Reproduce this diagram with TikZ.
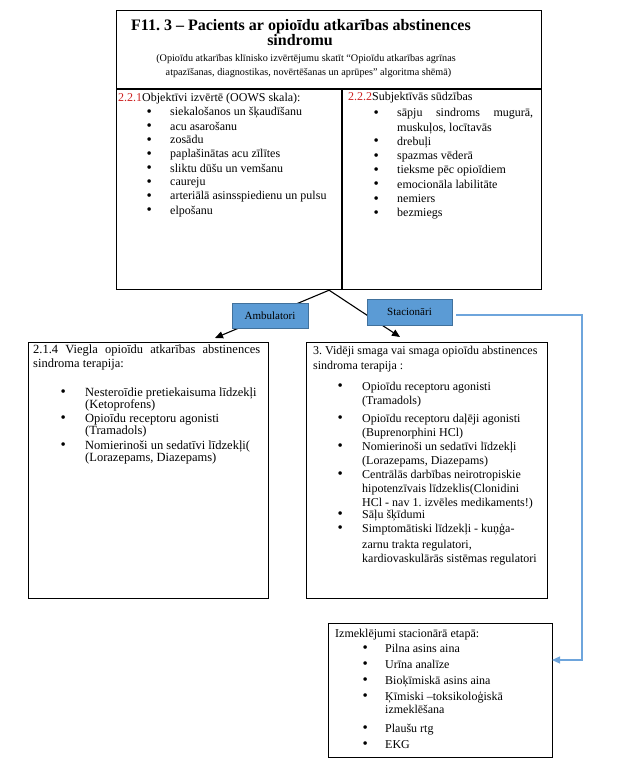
\documentclass[tikz,border=0pt]{standalone}
\usepackage{fontspec}
\setmainfont{Liberation Serif}
\usetikzlibrary{arrows.meta,calc}
\frenchspacing
\definecolor{numred}{RGB}{204,32,32}
\definecolor{bfill}{RGB}{91,155,213}
\definecolor{bdraw}{RGB}{65,113,156}
\definecolor{bline}{RGB}{110,165,220}
\newcommand{\fs}[2]{\fontsize{#1pt}{#2pt}\selectfont}
\newlength{\bpos}\newlength{\tpos}
\newcommand{\bul}{\raisebox{-0.6pt}{\fontsize{15pt}{0pt}\selectfont\textbullet}}
\newcommand{\itm}[2][0pt]{\par\vspace{#1}\hangindent=\tpos\hangafter=1\noindent\hbox to\tpos{\hskip\bpos\makebox[0pt]{\bul}\hfill}#2}
\tikzset{
  frame/.style={draw, line width=1.2pt, inner sep=0pt, anchor=north west},
  lst/.style={inner sep=0pt, anchor=base west, align=justify},
  ttl/.style={inner sep=0pt, anchor=base, font=\bfseries\fs{16}{15}},
  subt/.style={inner sep=0pt, anchor=base, font=\fs{10.2}{13}},
  bluebox/.style={draw=bdraw, fill=bfill, line width=1pt, inner sep=0pt, font=\fs{11}{13}},
  arr/.style={-{Triangle[length=8pt,width=7pt]}, line width=1.1pt},
  bluearr/.style={-{Triangle[length=8pt,width=7pt]}, draw=bline, line width=1.2pt}
}
\begin{document}
\begin{tikzpicture}[x=1pt,y=-1pt]
\useasboundingbox (0,0) rectangle (636,773);
% frames
\node[frame, minimum width=425pt, minimum height=279pt] (top) at (116,10) {};
\node[frame, minimum width=240pt, minimum height=256pt] (lbox) at (28,342) {};
\node[frame, minimum width=241pt, minimum height=256pt] (rbox) at (306,342) {};
\node[frame, minimum width=224pt, minimum height=134pt] (bbox) at (328,623) {};
\draw[line width=1.2pt] ([yshift=-79pt]top.north west) -- ([yshift=-79pt]top.north east);
\draw[line width=1.2pt] ([xshift=226pt,yshift=-79pt]top.north west) -- ([xshift=226pt]top.south west);
% title
\node[ttl] (t1) at (301,30.5) {F11. 3 – Pacients ar opioīdu atkarības abstinences};
\node[ttl] (t2) at (300,46) {sindromu};
\node[subt] (s1) at (306,62) {(Opioīdu atkarības klīnisko izvērtējumu skatīt “Opioīdu atkarības agrīnas};
\node[subt] (s2) at (308.5,75.5) {atpazīšanas, diagnostikas, novērtēšanas un aprūpes” algoritma shēmā)};
% top left list
\node[lst, text width=220pt, font=\fs{12}{14}] (tl) at (118,101.5) {\setlength{\bpos}{31pt}\setlength{\tpos}{52pt}\noindent\textcolor{numred}{2.2.1}Objektīvi izvērtē (OOWS skala):%
\itm[0.5pt]{siekalošanos un šķaudīšanu}\itm{acu asarošanu}\itm{zosādu}\itm{paplašinātas acu zīlītes}%
\itm{sliktu dūšu un vemšanu}\itm{caureju}\itm{arteriālā asinsspiedienu un pulsu}\itm{elpošanu}\par};
% top right list
\node[lst, text width=185pt, font=\fs{12}{14.3}] (tr) at (348,101) {\setlength{\bpos}{28pt}\setlength{\tpos}{49pt}\noindent\textcolor{numred}{2.2.2}Subjektīvās sūdzības%
\itm[1.5pt]{sāpju sindroms mugurā,\linebreak muskuļos, locītavās}\itm{drebuļi}\itm{spazmas vēderā}\itm{tieksme pēc opioīdiem}%
\itm{emocionāla labilitāte}\itm{nemiers}\itm{bezmiegs}\par};
% arrows
\coordinate (ambEnd) at (215,338);
\coordinate (staEnd) at (400,337);
\draw[arr] (top.south) -- (ambEnd);
\draw[arr] (top.south) -- (staEnd);
% blue boxes
\node[bluebox, minimum width=76pt, minimum height=25pt] (amb) at (270,315.5) {Ambulatori};
\node[bluebox, minimum width=85pt, minimum height=26pt] (sta) at (409.5,312) {Stacionāri};
% blue connector
\coordinate (blstart) at (456,315);
\coordinate (blcorner) at (582,660);
\coordinate (bltip) at (552,660);
\draw[bluearr] (blstart) -| (blcorner) -- (bltip);
% left bottom list
\node[lst, text width=227pt, font=\fs{12.5}{12.2}] (lb) at (33,353.5) {\setlength{\bpos}{30pt}\setlength{\tpos}{52pt}{\baselineskip=14pt\noindent 2.1.4 Viegla opioīdu atkarības abstinences\linebreak sindroma terapija:\par}%
\itm[16.5pt]{Nesteroīdie pretiekaisuma līdzekļi\\(Ketoprofens)}%
\itm[1.6pt]{Opioīdu receptoru agonisti\\(Tramadols)}%
\itm[2.5pt]{Nomierinoši un sedatīvi līdzekļi(\\(Lorazepams, Diazepams)}\par};
% right bottom list
\node[lst, text width=232pt, font=\fs{12}{14}] (rb) at (313,354) {\setlength{\bpos}{27pt}\setlength{\tpos}{49pt}{\baselineskip=15pt\noindent 3. Vidēji smaga vai smaga opioīdu abstinences\\sindroma terapija :\par}%
\itm[7pt]{Opioīdu receptoru agonisti\\(Tramadols)}%
\itm[4pt]{Opioīdu receptoru daļēji agonisti\\(Buprenorphini HCl)}%
\itm{Nomierinoši un sedatīvi līdzekļi\\(Lorazepams, Diazepams)}%
\itm{Centrālās darbības neirotropiskie\\hipotenzīvais līdzeklis(Clonidini\\HCl - nav 1. izvēles medikaments!)}%
\itm[-2pt]{Sāļu šķīdumi}%
\itm{Simptomātiski līdzekļi - kuņģa-\\[2pt]zarnu trakta regulatori,\\kardiovaskulārās sistēmas regulatori}\par};
% bottom list
\node[lst, text width=213pt, font=\fs{12}{16}] (bl) at (335,637) {\setlength{\bpos}{30pt}\setlength{\tpos}{50pt}\noindent Izmeklējumi stacionārā etapā:%
\itm[-1pt]{Pilna asins aina}\itm{Urīna analīze}\itm{Bioķīmiskā asins aina}%
\itm{Ķīmiski –toksikoloģiskā\\[-2.5pt]izmeklēšana}\itm[2.5pt]{Plaušu rtg}\itm{EKG}\par};
\end{tikzpicture}
\end{document}
